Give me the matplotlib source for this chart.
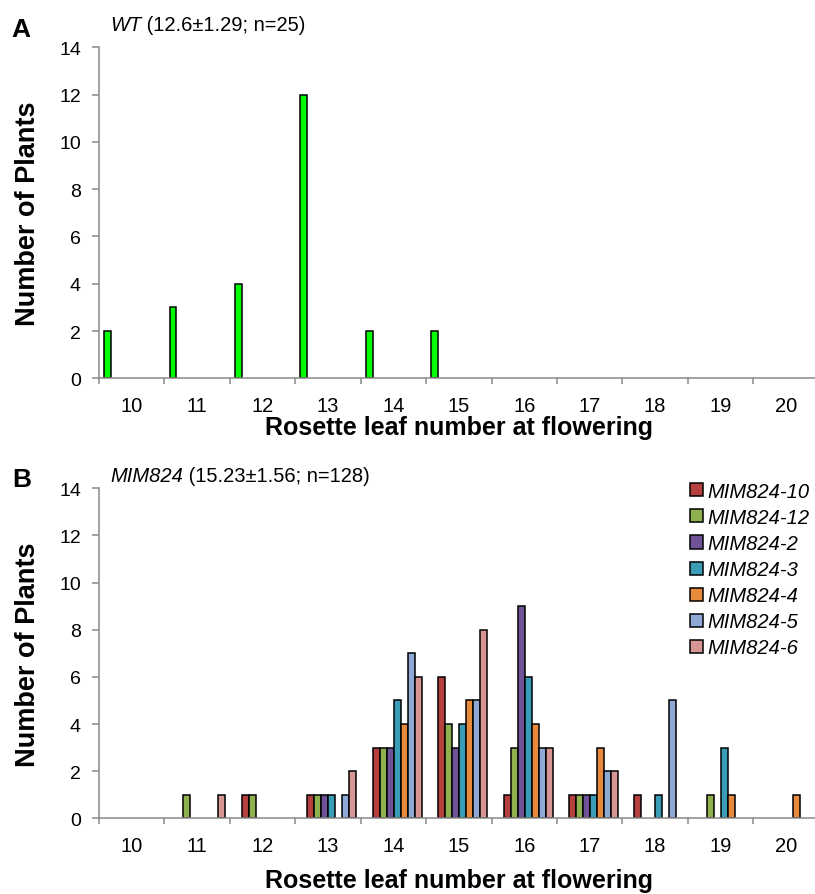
import numpy as np
import matplotlib
matplotlib.use("Agg")
import matplotlib.pyplot as plt
from matplotlib.patches import Patch

plt.rcParams["font.family"] = ["Liberation Sans", "DejaVu Sans"]

leaf_numbers = [10, 11, 12, 13, 14, 15, 16, 17, 18, 19, 20]
wt_counts = [2, 3, 4, 12, 2, 2, 0, 0, 0, 0, 0]

line_names = ["MIM824-10", "MIM824-12", "MIM824-2", "MIM824-3", "MIM824-4", "MIM824-5", "MIM824-6"]
line_colors = ["#B5403D", "#8EB04E", "#6F5396", "#3A9DB8", "#E88A3B", "#8FA9D6", "#D79594"]
# counts per line, one value per leaf number 10..20
mim_10 = [0, 0, 1, 1, 3, 6, 1, 1, 1, 0, 0]
mim_12 = [0, 1, 1, 1, 3, 4, 3, 1, 0, 1, 0]
mim_2 = [0, 0, 0, 1, 3, 3, 9, 1, 0, 0, 0]
mim_3 = [0, 0, 0, 1, 5, 4, 6, 1, 1, 3, 0]
mim_4 = [0, 0, 0, 0, 4, 5, 4, 3, 0, 1, 1]
mim_5 = [0, 0, 0, 1, 7, 5, 3, 2, 5, 0, 0]
mim_6 = [0, 1, 0, 2, 6, 8, 3, 2, 0, 0, 0]
mim_counts = [mim_10, mim_12, mim_2, mim_3, mim_4, mim_5, mim_6]

W, H = 815, 895
fig = plt.figure(figsize=(W / 100, H / 100), dpi=100)

axis_color = "#898989"
ax_left = 99 / W
ax_width = 719.6 / W
ax_a = fig.add_axes([ax_left, (H - 379.3) / H, ax_width, 331 / H])
ax_b = fig.add_axes([ax_left, (H - 819.3) / H, ax_width, 330 / H])

x = np.arange(len(leaf_numbers))


def style_axis(ax, xlabel_pad):
    ax.set_xlim(-0.5, len(leaf_numbers) - 0.5)
    ax.set_ylim(0, 14)
    ax.set_yticks(np.arange(0, 15, 2))
    for s in ["top", "right"]:
        ax.spines[s].set_visible(False)
    for s in ["left", "bottom"]:
        ax.spines[s].set_color(axis_color)
        ax.spines[s].set_linewidth(1.1)
    ax.set_xticks(np.arange(-0.5, len(leaf_numbers), 1.0))
    ax.set_xticklabels([])
    ax.set_xticks(x, minor=True)
    ax.set_xticklabels([str(v) for v in leaf_numbers], minor=True)
    ax.tick_params(axis="x", which="major", length=4.5, width=1.1, color=axis_color, direction="out")
    ax.tick_params(axis="x", which="minor", length=0, pad=13, labelsize=14.5)
    ax.tick_params(axis="y", length=5, width=1.1, color=axis_color, direction="out", pad=8, labelsize=14)
    ax.set_ylabel("Number of Plants", fontsize=19.5, fontweight="bold", labelpad=13)
    ax.set_xlabel("Rosette leaf number at flowering", fontsize=18, fontweight="bold", labelpad=xlabel_pad)


def draw_bars(ax, left, counts, width, color):
    counts = np.asarray(counts)
    keep = counts > 0
    ax.bar(left[keep], counts[keep], width=width, align="edge",
           color=color, edgecolor="black", linewidth=1.1)


# panel A
draw_bars(ax_a, x - 0.5 + 0.078, wt_counts, 0.104, "#00FF00")
style_axis(ax_a, 0)

# panel B
bar_w = 7 / 65.4
offset = 12 / 65.4
for j, counts in enumerate(mim_counts):
    draw_bars(ax_b, x - 0.5 + offset + j * bar_w, counts, bar_w, line_colors[j])
style_axis(ax_b, 9)

handles = [Patch(facecolor=c, edgecolor="black", linewidth=1.1) for c in line_colors]
leg = fig.legend(handles, line_names, loc="upper right", bbox_to_anchor=(810 / W, (H - 483) / H),
                 frameon=False, borderpad=0, borderaxespad=0, handlelength=0.62, handleheight=0.62,
                 handletextpad=0.25, labelspacing=0.35, prop={"style": "italic", "size": 14.5})

# titles: italic genotype name followed by upright statistics
for y_base, name, stats in [(31, "WT", " (12.6±1.29; n=25)"),
                            (482, "MIM824", " (15.23±1.56; n=128)")]:
    t = fig.text(110 / W, (H - y_base) / H, name, fontsize=14.5, style="italic", va="baseline")
    ax_a.annotate(stats, xy=(1, 0), xycoords=t, fontsize=14.5, va="bottom", ha="left",
                  annotation_clip=False)

fig.text(11 / W, (H - 36.7) / H, "A", fontsize=19, fontweight="bold", va="baseline")
fig.text(12 / W, (H - 487.3) / H, "B", fontsize=19, fontweight="bold", va="baseline")

fig.savefig("out.png", dpi=100)
